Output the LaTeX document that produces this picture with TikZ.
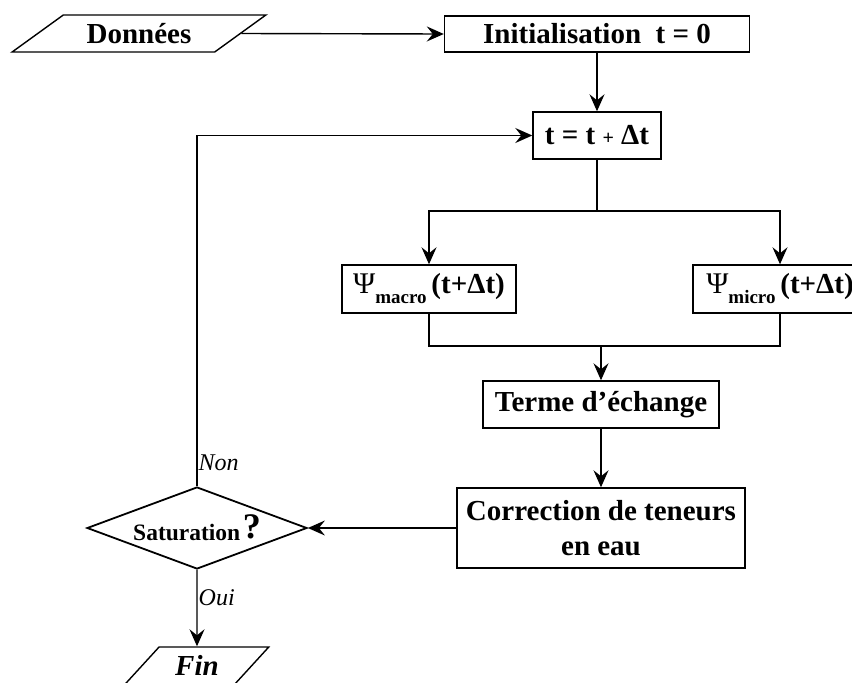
\documentclass[tikz,border=0pt]{standalone}
\usepackage{fontspec}
\setmainfont{Liberation Serif}
\usetikzlibrary{arrows.meta,shapes.geometric}

\newcommand{\boxfont}{\fontsize{29}{35}\selectfont\bfseries}
\newcommand{\answerfont}{\fontsize{24}{28}\selectfont\itshape}
\newcommand{\psiof}[1]{{\mdseries\fontsize{30}{34}\selectfont Ψ}\raisebox{-10pt}{\fontsize{19}{20}\selectfont #1}\,(t+Δt)}

\tikzset{
  box/.style={draw,line width=1.4pt,inner sep=0pt,font=\boxfont},
  iobox/.style={draw,trapezium,trapezium stretches=true,line width=1.4pt,inner sep=0pt,font=\boxfont},
  testbox/.style={draw,diamond,aspect=2.68,line width=1.8pt,inner sep=0pt,minimum width=220pt,minimum height=82pt},
  link/.style={line width=1.4pt},
  arr/.style={link,-{Stealth[length=17pt,width=15pt,inset=6pt]}},
  answer/.style={font=\answerfont,inner sep=1pt}
}

\begin{document}
\begin{tikzpicture}[x=1pt,y=-1pt]
\useasboundingbox (0,0) rectangle (852,683);
% boxes
\node[iobox,trapezium left angle=30,trapezium right angle=150,minimum width=254pt,minimum height=37pt] (donnees) at (139,33.5) {Données};
\node[box,minimum width=305pt,minimum height=36pt] (init) at (597,34) {Initialisation\ \ t = 0};
\node[box,minimum width=128pt,minimum height=47pt] (tstep) at (597,135.5) {t = t {\fontsize{20}{24}\selectfont +} Δt};
\node[box,minimum width=174pt,minimum height=48pt] (macro) at (429,289) {\psiof{macro}};
\node[box,minimum width=174pt,minimum height=48pt] (micro) at (780,289) {\psiof{micro}};
\node[box,minimum width=236pt,minimum height=47pt] (terme) at (601,404.5) {Terme d’échange};
\node[box,minimum width=288pt,minimum height=80pt,align=center] (corr) at (601,528) {Correction de teneurs\\en eau};
\node[testbox] (satur) at (197,528) {{\fontsize{23.5}{28}\selectfont\bfseries Saturation} \raisebox{2pt}{\fontsize{36}{40}\selectfont\bfseries ?}};
\node[iobox,trapezium left angle=46,trapezium right angle=134,minimum width=144pt,minimum height=37pt,font=\boxfont\itshape] (fin) at (197,665.5) {Fin};

% connectors
\coordinate (split) at (597,211);
\coordinate (join) at (601,346);
\draw[arr] (donnees.east) -- (init.west);
\draw[arr] (init) -- (tstep);
\draw[link] (tstep) -- (split);
\draw[arr] (split) -| (macro);
\draw[arr] (split) -| (micro);
\draw[link] (macro) |- (join) -| (micro);
\draw[arr] (join) -- (terme);
\draw[arr] (terme) -- (corr);
\draw[arr] (corr) -- (satur);
\draw[arr] (satur) |- (tstep) node[answer,pos=0.033,anchor=west] {Non};
\draw[arr] (satur) -- (fin) node[answer,pos=0.36,anchor=west] {Oui};
\end{tikzpicture}
\end{document}
